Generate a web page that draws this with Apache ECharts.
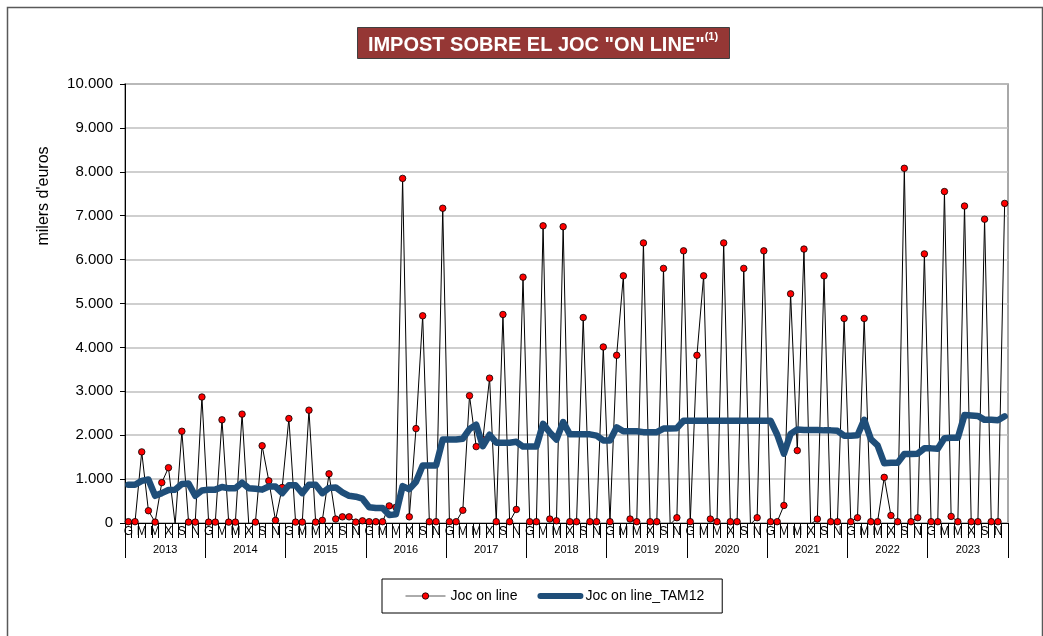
<!DOCTYPE html>
<html>
<head>
<meta charset="utf-8">
<script src="https://cdn.jsdelivr.net/npm/echarts@6/dist/echarts.min.js"></script>
<style>
  html, body { margin: 0; padding: 0; background: #ffffff; }
  #chart { width: 1043px; height: 636px; }
</style>
</head>
<body>
<div id="chart"></div>
<script>
// Years shown on the lower category level
const years = ['2013', '2014', '2015', '2016', '2017', '2018', '2019', '2020', '2021', '2022', '2023'];
// Catalan month initials (every other one is shown on the axis)
const monthLetters = ['G', 'F', 'M', 'A', 'M', 'J', 'X', 'A', 'S', 'O', 'N', 'D'];

// Monthly collection, thousands of euros (one row per year)
const jocOnLine = [
  30, 30, 1620, 280, 20, 920, 1260, -30, 2090, 20, 20, 2870,      // 2013
  20, 20, 2350, 20, 20, 2480, -30, 20, 1760, 960, 60, 810,        // 2014
  2380, 20, 20, 2570, 20, 60, 1120, 90, 140, 140, 20, 50,         // 2015
  30, 30, 30, 390, 360, 7850, 140, 2150, 4720, 30, 30, 7170,      // 2016
  30, 30, 290, 2900, 1740, 1900, 3300, 30, 4750, 30, 310, 5600,   // 2017
  30, 30, 6770, 90, 50, 6750, 30, 30, 4680, 30, 30, 4010,         // 2018
  30, 3820, 5630, 90, 30, 6380, 30, 30, 5800, -30, 120, 6200,     // 2019
  30, 3820, 5630, 90, 30, 6380, 30, 30, 5800, -30, 120, 6200,     // 2020
  30, 30, 400, 5220, 1650, 6240, -30, 90, 5630, 30, 30, 4660,     // 2021
  30, 120, 4660, 30, 30, 1040, 170, 30, 8080, 30, 120, 6130,      // 2022
  30, 30, 7550, 150, 30, 7220, 30, 30, 6920, 30, 30, 7280         // 2023
];

// Twelve-month moving average, thousands of euros
const jocOnLineTam12 = [
  870, 870, 960, 990, 620, 680, 750, 760, 890, 900, 620, 740,         // 2013
  760, 760, 820, 790, 790, 920, 790, 780, 760, 830, 830, 680,         // 2014
  860, 860, 680, 870, 870, 680, 800, 810, 700, 620, 600, 555,         // 2015
  360, 340, 340, 180, 200, 840, 770, 940, 1310, 1310, 1310, 1900,     // 2016
  1900, 1900, 1920, 2140, 2240, 1750, 2010, 1830, 1830, 1830, 1850, 1740, // 2017
  1740, 1740, 2260, 2060, 1900, 2300, 2020, 2020, 2020, 2020, 1990, 1880, // 2018
  1880, 2180, 2090, 2090, 2090, 2070, 2070, 2070, 2150, 2150, 2160, 2330, // 2019
  2330, 2330, 2330, 2330, 2330, 2330, 2330, 2330, 2330, 2330, 2330, 2330, // 2020
  2330, 2010, 1580, 2030, 2130, 2120, 2120, 2120, 2110, 2110, 2100, 1990, // 2021
  1990, 2000, 2350, 1910, 1770, 1360, 1370, 1370, 1570, 1570, 1580, 1700, // 2022
  1700, 1690, 1930, 1940, 1940, 2460, 2450, 2440, 2350, 2350, 2340, 2430  // 2023
];

const yMin = 0, yMax = 10000, yStep = 1000;
const seriesNames = ['Joc on line', 'Joc on line_TAM12'];
const titleText = 'IMPOST SOBRE EL JOC "ON LINE"';
const titleNote = '(1)';
const yAxisTitle = "milers d'euros";

// One category per month
const monthCategories = [];
years.forEach(function (y) {
  monthLetters.forEach(function (m) { monthCategories.push(m); });
});

// Thousands separator as a dot
function fmt(v) {
  return String(v).replace(/\B(?=(\d{3})+(?!\d))/g, '.');
}

const FONT = 'Liberation Sans, Arial, sans-serif';
const BLUE = '#1f4e79';
const chart = echarts.init(document.getElementById('chart'), null, { renderer: 'canvas' });

const option = {
  animation: false,
  backgroundColor: '#ffffff',
  textStyle: { fontFamily: FONT, color: '#000' },
  grid: { left: 125, right: 35, top: 84, bottom: 113, show: true, borderColor: '#8c8c8c', borderWidth: 1.5, backgroundColor: 'transparent' },
  legend: {
    left: 382, top: 579,
    orient: 'horizontal',
    itemWidth: 40, itemHeight: 8, itemGap: 20,
    padding: [10, 18, 10, 23],
    borderColor: '#000', borderWidth: 1,
    textStyle: { fontFamily: FONT, fontSize: 14, color: '#000' },
    data: [
      { name: seriesNames[0], lineStyle: { color: '#595959', width: 1 }, itemStyle: { color: '#ff0000', borderColor: '#000', borderWidth: 0.8 } },
      { name: seriesNames[1], lineStyle: { color: BLUE, width: 6, cap: 'round' }, itemStyle: { opacity: 0 } }
    ]
  },
  xAxis: [
    {
      type: 'category', data: monthCategories, boundaryGap: true, position: 'bottom',
      axisLine: { show: true, lineStyle: { color: '#000', width: 1 } },
      axisTick: { show: true, interval: 0, length: 15, lineStyle: { color: '#000', width: 1 } },
      axisLabel: { interval: 1, fontSize: 12, margin: 3, color: '#000', fontFamily: FONT },
      splitLine: { show: false }
    },
    {
      type: 'category', data: years, boundaryGap: true, position: 'bottom', gridIndex: 0,
      axisLine: { show: false },
      axisTick: { show: true, interval: 0, length: 35, lineStyle: { color: '#000', width: 1 } },
      axisLabel: { interval: 0, fontSize: 11, margin: 21, color: '#000', fontFamily: FONT },
      splitLine: { show: false }
    }
  ],
  yAxis: {
    type: 'value', min: yMin, max: yMax, interval: yStep,
    axisLine: { show: true, lineStyle: { color: '#000', width: 1 } },
    axisTick: { show: true, length: 5, lineStyle: { color: '#000' } },
    axisLabel: { fontSize: 15, margin: 12, color: '#000', fontFamily: FONT, formatter: fmt },
    splitLine: { show: true, lineStyle: { color: '#bfbfbf', width: 1.5 } }
  },
  series: [
    {
      name: seriesNames[0], type: 'line', xAxisIndex: 0, z: 2,
      data: jocOnLine.map(function (v) { return v < 0 ? { value: v, symbol: 'none' } : v; }),
      symbol: 'circle', symbolSize: 6.5, showSymbol: true, showAllSymbol: true, clip: true,
      lineStyle: { color: '#000', width: 1 },
      itemStyle: { color: '#ff0000', borderColor: '#000', borderWidth: 0.8 },
      emphasis: { disabled: true }
    },
    {
      name: seriesNames[1], type: 'line', xAxisIndex: 0, z: 3,
      data: jocOnLineTam12,
      symbol: 'none', clip: true,
      lineStyle: { color: BLUE, width: 6.5, cap: 'round', join: 'round' },
      itemStyle: { color: BLUE },
      emphasis: { disabled: true }
    }
  ],
  graphic: [
    { type: 'rect', left: 5, top: 5, shape: { width: 1035, height: 640 }, style: { fill: 'none', stroke: '#595959', lineWidth: 1.5 }, z: -10 },
    { type: 'rect', left: 357, top: 27, shape: { width: 372, height: 31 }, style: { fill: '#953735', stroke: '#3f3f3f', lineWidth: 1 }, z: 10 },
    {
      type: 'text', x: 543, y: 43, z: 11,
      style: {
        text: '{a|' + titleText + '}{b|' + titleNote + '}',
        align: 'center', verticalAlign: 'middle',
        rich: {
          a: { fontFamily: FONT, fontSize: 20, fontWeight: 'bold', fill: '#fff', lineHeight: 24, verticalAlign: 'bottom' },
          b: { fontFamily: FONT, fontSize: 11, fontWeight: 'bold', fill: '#fff', lineHeight: 14, verticalAlign: 'top' }
        }
      }
    },
    {
      type: 'text', x: 44, y: 196, rotation: Math.PI / 2, z: 11,
      style: { text: yAxisTitle, fontFamily: FONT, fontSize: 16, fill: '#000', align: 'center', verticalAlign: 'middle' }
    }
  ]
};

chart.setOption(option);
</script>
</body>
</html>
